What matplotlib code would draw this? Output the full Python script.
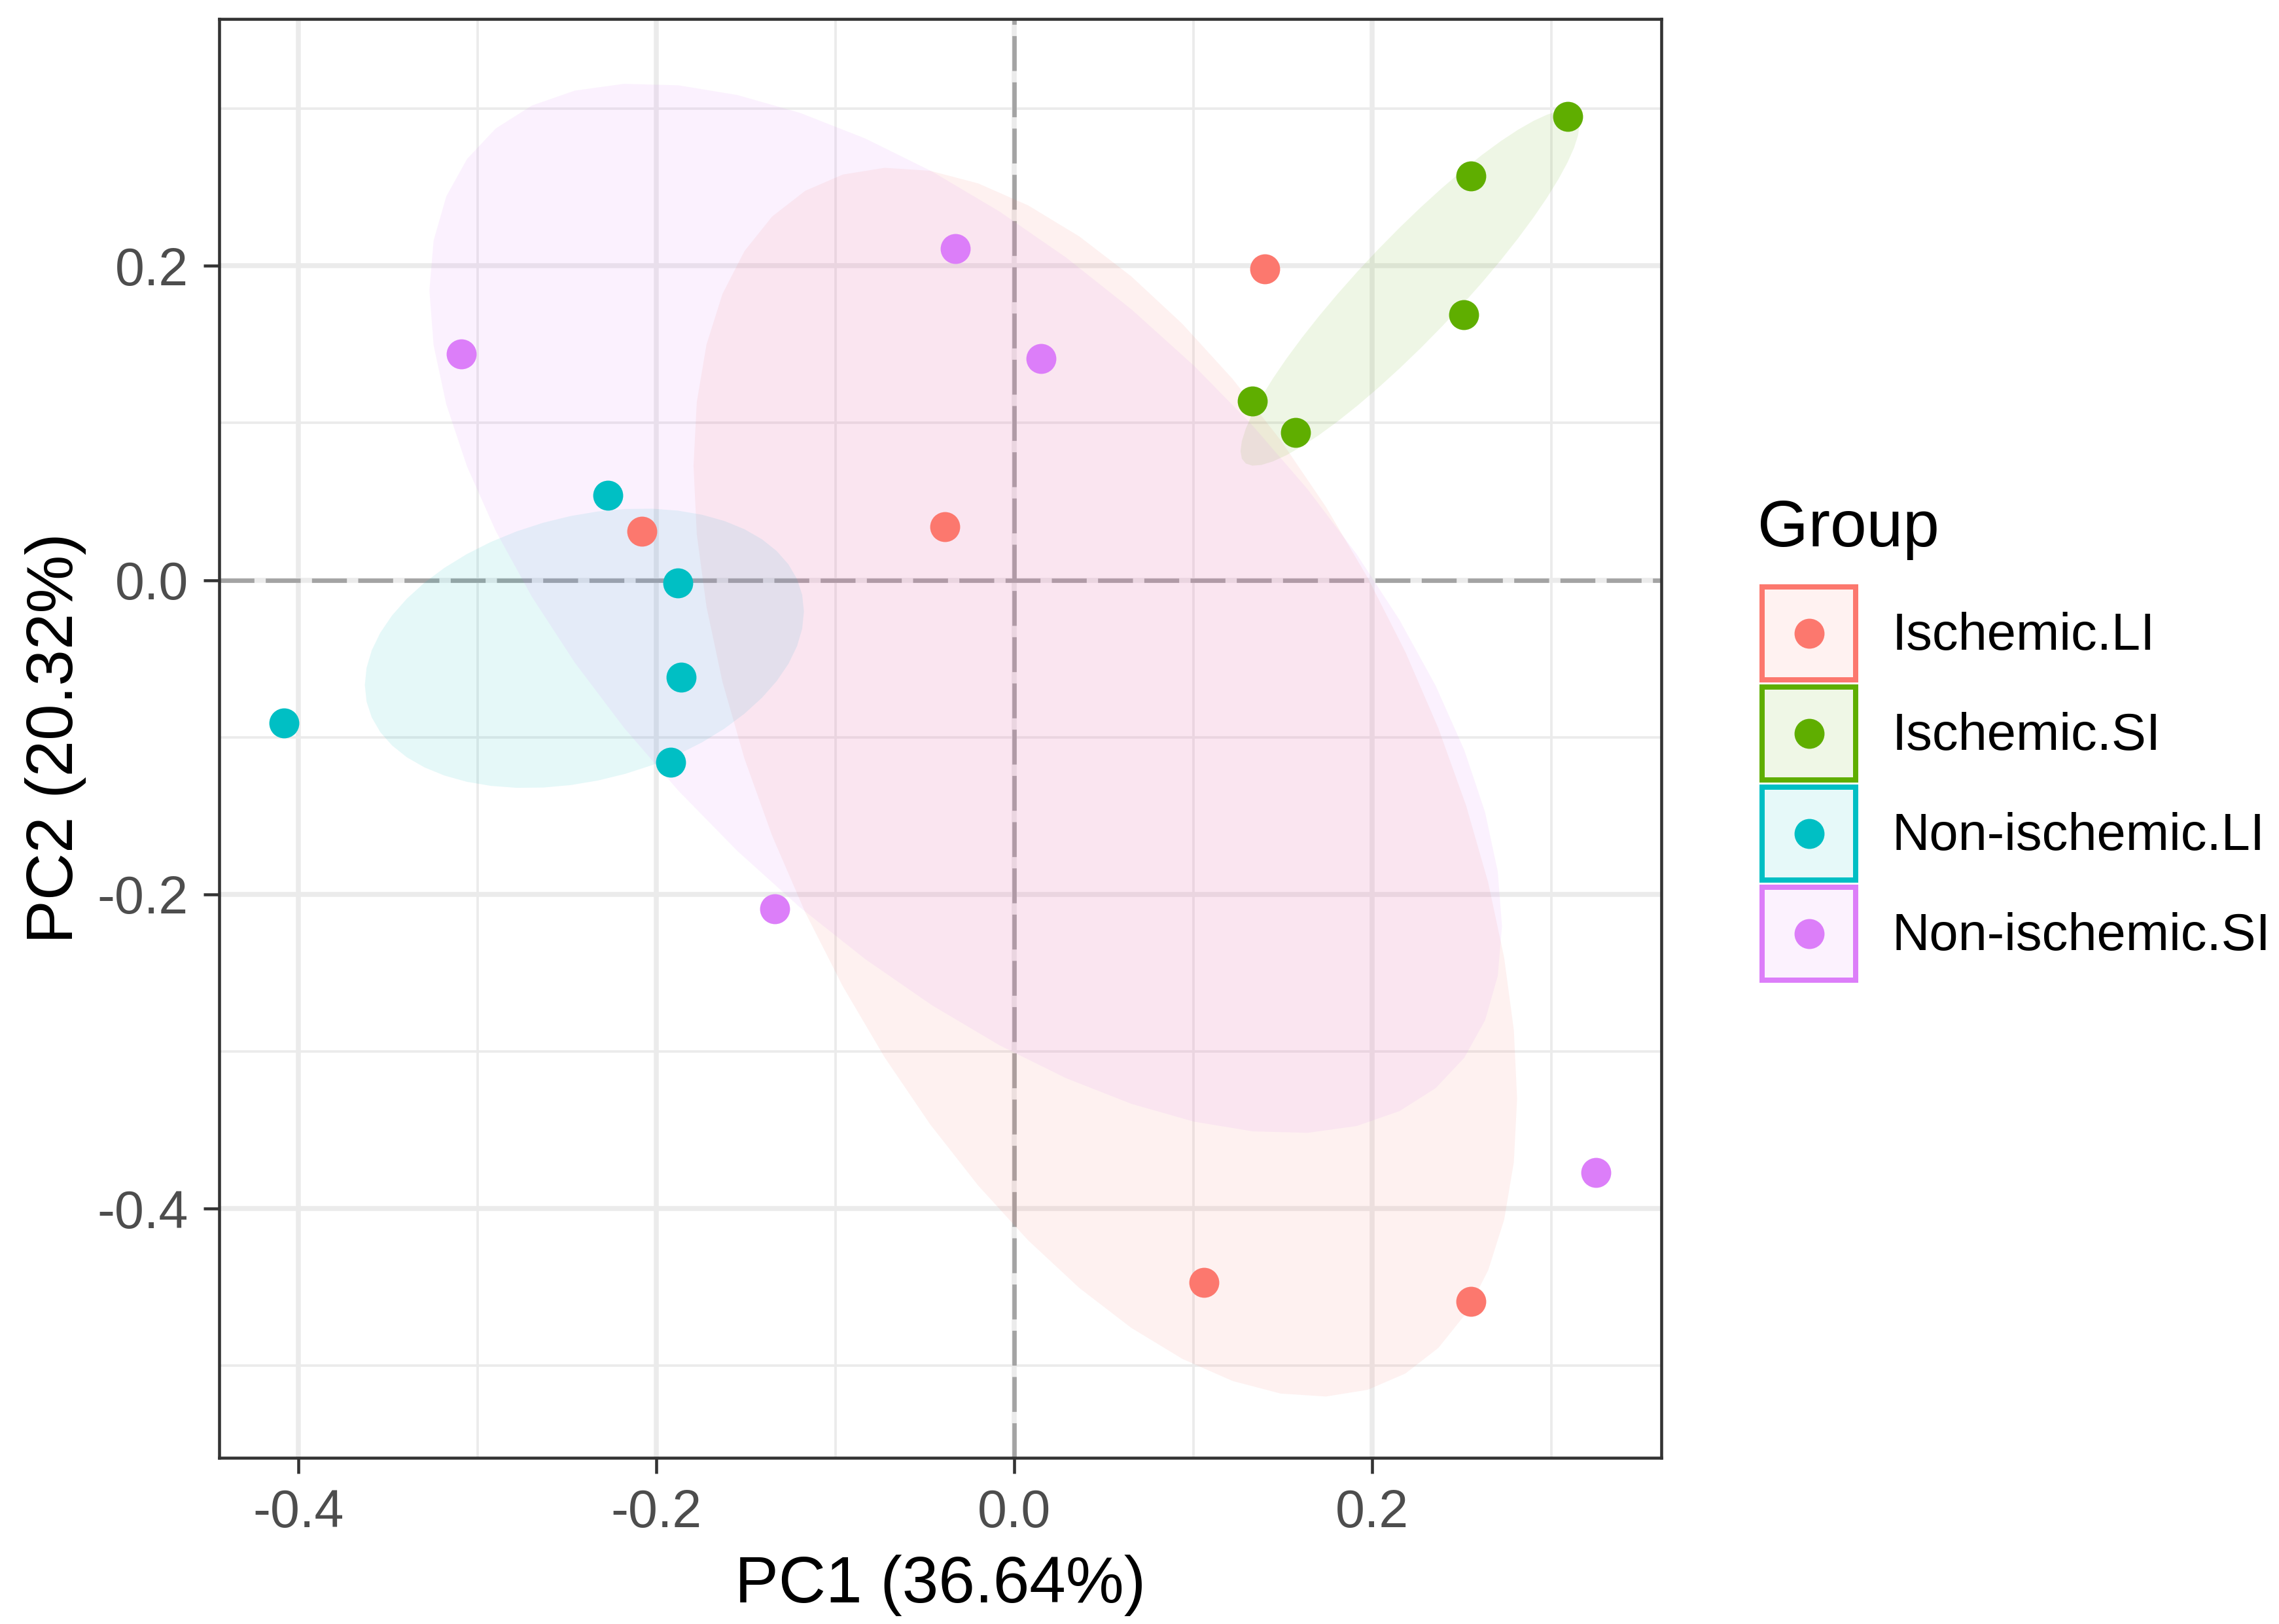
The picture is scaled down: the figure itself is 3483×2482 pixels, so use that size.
import numpy as np
import matplotlib
matplotlib.use("Agg")
import matplotlib.pyplot as plt
from matplotlib.patches import Polygon, Patch, Rectangle
from matplotlib.lines import Line2D
from matplotlib.legend_handler import HandlerBase
from matplotlib.ticker import MultipleLocator

plt.rcParams['font.family'] = ['Liberation Sans', 'DejaVu Sans']

# ---------------- data ----------------
groups = ["Ischemic.LI", "Ischemic.SI", "Non-ischemic.LI", "Non-ischemic.SI"]
colors = ["#FC786E", "#5FAE00", "#00BFC4", "#DC7EF9"]

pc1_ischemic_li = [-0.208, -0.039, 0.140, 0.106, 0.255]
pc2_ischemic_li = [0.031, 0.034, 0.198, -0.447, -0.459]

pc1_ischemic_si = [0.309, 0.255, 0.251, 0.133, 0.157]
pc2_ischemic_si = [0.295, 0.257, 0.169, 0.114, 0.094]

pc1_nonisch_li = [-0.408, -0.227, -0.188, -0.186, -0.192]
pc2_nonisch_li = [-0.091, 0.054, -0.002, -0.062, -0.116]

pc1_nonisch_si = [-0.309, -0.033, 0.015, -0.134, 0.325]
pc2_nonisch_si = [0.144, 0.211, 0.141, -0.209, -0.377]

pc1_all = [pc1_ischemic_li, pc1_ischemic_si, pc1_nonisch_li, pc1_nonisch_si]
pc2_all = [pc2_ischemic_li, pc2_ischemic_si, pc2_nonisch_li, pc2_nonisch_si]

xlabel = "PC1 (36.64%)"
ylabel = "PC2 (20.32%)"
legend_title = "Group"
x_ticks = [-0.4, -0.2, 0.0, 0.2]
y_ticks = [-0.4, -0.2, 0.0, 0.2]
ellipse_level = 0.5
fill_alpha = 0.1


def qf_2(p, d):
    # quantile of the F(2, d) distribution
    return d / 2.0 * ((1.0 - p) ** (-2.0 / d) - 1.0)


def norm_ellipse(x, y, level, segments=51):
    x = np.asarray(x); y = np.asarray(y)
    n = len(x)
    center = np.array([x.mean(), y.mean()])
    cov = np.cov(np.vstack([x, y]))
    L = np.linalg.cholesky(cov)
    radius = np.sqrt(2 * qf_2(level, n - 1))
    t = np.linspace(0, 2 * np.pi, segments)
    circle = np.column_stack([np.cos(t), np.sin(t)])
    return circle @ L.T * radius + center


class KeyHandler(HandlerBase):
    """Square key with coloured border, light fill and centred dot."""
    def create_artists(self, legend, orig_handle, xdescent, ydescent,
                       width, height, fontsize, trans):
        c = orig_handle.get_edgecolor()
        fc = orig_handle.get_facecolor()
        rect = Rectangle((-xdescent, -ydescent), width, height,
                         facecolor=fc, edgecolor=c,
                         linewidth=orig_handle.get_linewidth(),
                         transform=trans)
        dot = Line2D([-xdescent + width / 2], [-ydescent + height / 2],
                     linestyle='none', marker='o', markersize=11,
                     markerfacecolor=c, markeredgecolor='none',
                     transform=trans)
        return [rect, dot]


W, H, DPI = 3483, 2482, 300
fig = plt.figure(figsize=(W / DPI, H / DPI), dpi=DPI)
ax = fig.add_axes([335 / W, 1 - 2228 / H, (2539 - 335) / W, (2228 - 29) / H])

ax.set_xlim(-0.4442, 0.3614)
ax.set_ylim(-0.5585, 0.357)

ax.set_xticks(x_ticks)
ax.set_yticks(y_ticks)
ax.set_xticklabels([f"{v:.1f}" for v in x_ticks])
ax.set_yticklabels([f"{v:.1f}" for v in y_ticks])
ax.xaxis.set_minor_locator(MultipleLocator(0.1))
ax.yaxis.set_minor_locator(MultipleLocator(0.1))

ax.grid(which='major', color='#EBEBEB', linewidth=1.8, zorder=0)
ax.grid(which='minor', color='#EBEBEB', linewidth=0.9, zorder=0)
ax.set_axisbelow(True)

ax.tick_params(which='major', length=5.8, width=1.1, color='#333333',
               labelsize=19.4, labelcolor='#4D4D4D', pad=5.5)
ax.tick_params(which='minor', length=0)
for sp in ax.spines.values():
    sp.set_color('#333333')
    sp.set_linewidth(1.1)
    sp.set_zorder(10)

# reference lines
ax.axhline(0, color='#A3A3A3', linewidth=1.6, dashes=(8, 2.6), zorder=1)
ax.axvline(0, color='#A3A3A3', linewidth=1.6, dashes=(8, 2.6), zorder=1)

# ellipses
for g, c, xs, ys in zip(groups, colors, pc1_all, pc2_all):
    pts = norm_ellipse(xs, ys, ellipse_level)
    ax.add_patch(Polygon(pts, closed=True, facecolor=c, alpha=fill_alpha,
                         edgecolor='none', zorder=2))

# points
for g, c, xs, ys in zip(groups, colors, pc1_all, pc2_all):
    ax.plot(xs, ys, linestyle='none', marker='o', markersize=11,
            markerfacecolor=c, markeredgecolor='none', zorder=3)

ax.set_xlabel(xlabel, fontsize=24, color='black', labelpad=6)
ax.set_ylabel(ylabel, fontsize=24, color='black', labelpad=4)

# legend
handles = []
for c in colors:
    r, gg, b = matplotlib.colors.to_rgb(c)
    light = (1 - fill_alpha * (1 - r), 1 - fill_alpha * (1 - gg), 1 - fill_alpha * (1 - b))
    handles.append(Patch(facecolor=light, edgecolor=c, linewidth=1.92))

fs = 19.1
leg = fig.legend(handles, groups, handler_map={Patch: KeyHandler()},
                 loc='upper left', bbox_to_anchor=(2693 / W, 1 - 897 / H),
                 frameon=False, fontsize=fs,
                 handlelength=1.8, handleheight=2.37, handletextpad=0.69,
                 labelspacing=0.138, borderpad=0, borderaxespad=0)

fig.text(2686 / W, 1 - 835 / H, legend_title, fontsize=24, color='black',
         ha='left', va='baseline')

fig.savefig("out.png", dpi=DPI, facecolor='white')
